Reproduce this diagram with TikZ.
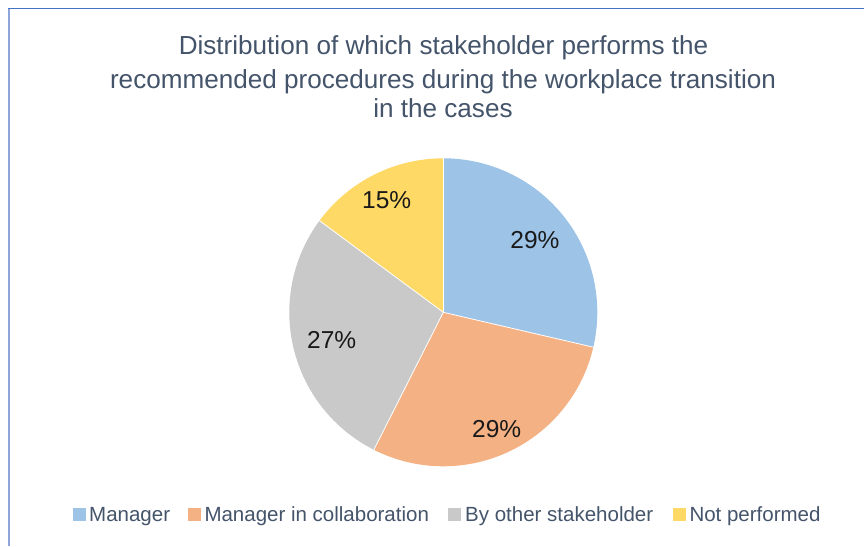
\documentclass[tikz,border=0pt]{standalone}
\usepackage{fontspec}
\setmainfont{Liberation Sans}
\definecolor{cMan}{HTML}{9DC3E6}
\definecolor{cCol}{HTML}{F4B183}
\definecolor{cOth}{HTML}{C9C9C9}
\definecolor{cNot}{HTML}{FFD966}
\definecolor{cTxt}{HTML}{44546A}
\definecolor{cTop}{HTML}{4472C4}
\definecolor{cLeft}{HTML}{8EA5DB}
\tikzset{
  titletext/.style={font=\fontsize{26.1}{30}\selectfont, text=cTxt, inner sep=0pt, anchor=base},
  pctlabel/.style={font=\fontsize{24.5}{28}\selectfont, text=black!90, inner sep=0pt, anchor=base},
  legtext/.style={font=\fontsize{20.5}{24}\selectfont, text=cTxt, inner sep=0pt, anchor=base west},
  legbox/.style={inner sep=0pt, minimum size=13pt, anchor=south west},
  sep/.style={white, line width=0.8pt}
}
\begin{document}
\begin{tikzpicture}[x=1pt,y=1pt]
\useasboundingbox (0,0) rectangle (864,546);
\fill[white] (0,0) rectangle (864,546);
% frame
\draw[cTop, line width=1pt] (8,537.7) -- (864,537.7);
\draw[cLeft, line width=2pt] (8.8,537.2) -- (8.8,0);
% title
\node[titletext] (t1) at (443.5,491) {Distribution of which stakeholder performs the};
\node[titletext] (t2) at (443,457.7) {recommended procedures during the workplace transition};
\node[titletext] (t3) at (443,428) {in the cases};
% pie
\coordinate (c) at (443.3,233.7);
\def\R{154}
\fill[cMan] (c) -- ++(90:\R) arc[start angle=90, end angle=-13.1, radius=\R] -- cycle;
\fill[cCol] (c) -- ++(-13.1:\R) arc[start angle=-13.1, end angle=-116.8, radius=\R] -- cycle;
\fill[cOth] (c) -- ++(-116.8:\R) arc[start angle=-116.8, end angle=-216.5, radius=\R] -- cycle;
\fill[cNot] (c) -- ++(143.5:\R) arc[start angle=143.5, end angle=90, radius=\R] -- cycle;
\draw[sep] (c) -- ++(90:\R);
\draw[sep] (c) -- ++(-13.1:\R);
\draw[sep] (c) -- ++(-116.8:\R);
\draw[sep] (c) -- ++(143.5:\R);
% labels
\node[pctlabel] (l1) at (535,297.7) {29\%};
\node[pctlabel] (l2) at (496.7,108.7) {29\%};
\node[pctlabel] (l3) at (331.7,197.7) {27\%};
\node[pctlabel] (l4) at (386.7,337.7) {15\%};
% legend
\node[legbox, fill=cMan] (b1) at (73,25) {};
\node[legtext] (g1) at (89,24.3) {Manager};
\node[legbox, fill=cCol] (b2) at (187.7,25) {};
\node[legtext] (g2) at (204.3,24.3) {Manager in collaboration};
\node[legbox, fill=cOth] (b3) at (448,25) {};
\node[legtext] (g3) at (465,24.3) {By other stakeholder};
\node[legbox, fill=cNot] (b4) at (672.7,25) {};
\node[legtext] (g4) at (689.3,24.3) {Not performed};
\end{tikzpicture}
\end{document}
